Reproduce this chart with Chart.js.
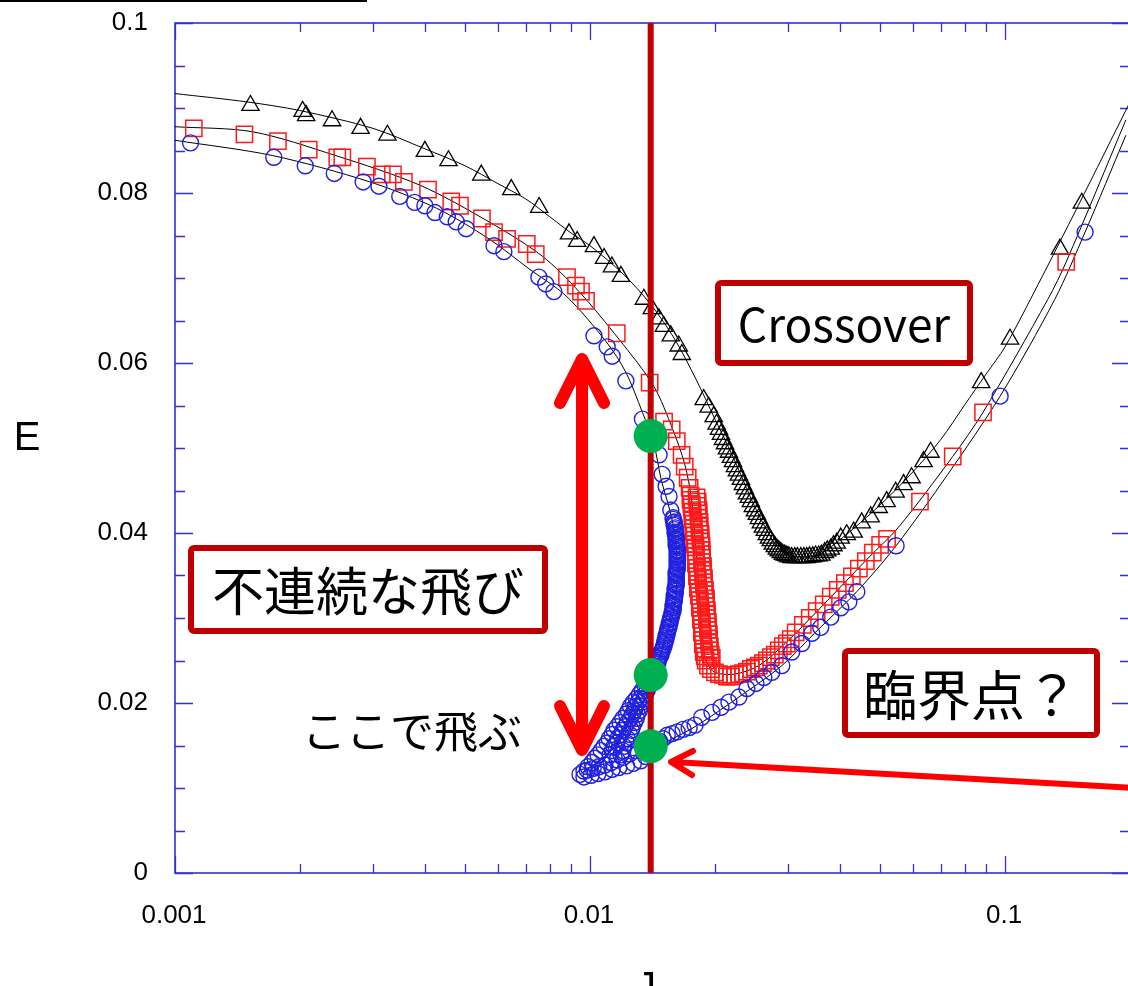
<!DOCTYPE html>
<html>
<head>
<meta charset="utf-8">
<script src="https://cdn.jsdelivr.net/npm/chart.js@4.4.1/dist/chart.umd.min.js"></script>
<style>
  html, body { margin: 0; padding: 0; background: #fff; overflow: hidden; }
  #wrap { position: relative; width: 1128px; height: 986px; overflow: hidden; }
  #chart { position: absolute; left: 0; top: 0; }
  #topline { position: absolute; left: 0; top: 0; width: 367px; height: 2px; background: #000; }
</style>
</head>
<body>
<div id="wrap"><canvas id="chart" width="1147" height="986"></canvas><div id="topline"></div></div>
<script>
// triangles (black)
const TRI_J = [0.00152,0.00203,0.00207,0.00239,0.0028,0.00325,0.004,0.00456,0.00547,0.00646,0.00754,0.0089,0.00931,0.01022,0.01081,0.01129,0.01187,0.01348,0.01409,0.01465,0.01506,0.01565,0.01636,0.01664,0.01879,0.01932,0.01986,0.02018,
  0.02045,0.02068,0.02091,0.02114,0.02137,0.02161,0.02185,0.0221,0.02234,0.02259,0.02284,0.0231,0.02335,0.02361,0.02388,0.02414,0.02441,0.02468,0.02496,0.02523,0.02551,0.0258,0.02609,0.02638,0.02667,0.02697,0.02727,0.02757,0.02788,0.02819,0.0285,0.02882,0.02914,0.02946,0.02979,0.03013,0.0306,0.03114,0.0316,0.0322,0.03274,0.03328,0.0338,0.0344,0.03495,0.03556,0.0361,0.03678,0.0373,0.03802,0.0386,0.0393,0.04018,
  0.04154,0.04318,0.04514,0.04745,0.0496,0.05185,0.0545,0.05696,0.05954,0.06363,0.06614,0.0876,0.1028,0.1356,0.1531];
const TRI_E = [0.0903,0.0896,0.0891,0.0885,0.0876,0.0868,0.0849,0.0838,0.0821,0.0804,0.0783,0.0752,0.0743,0.0737,0.0723,0.0713,0.0702,0.0675,0.0664,0.0652,0.0643,0.0632,0.062,0.061,0.0557,0.0548,0.0537,0.0528,
  0.0522,0.0516,0.051,0.0505,0.0499,0.0495,0.0489,0.0484,0.0478,0.0473,0.0468,0.0463,0.0457,0.0452,0.0446,0.0442,0.0437,0.0431,0.0426,0.0422,0.0417,0.0412,0.0407,0.0403,0.0398,0.0394,0.0391,0.0387,0.0384,0.0381,0.0379,0.0377,0.0375,0.0374,0.0373,0.0372,0.0371,0.0371,0.0371,0.0371,0.0371,0.0371,0.0372,0.0372,0.0373,0.0373,0.0374,0.0377,0.0379,0.0381,0.0385,0.0388,0.0394,
  0.0398,0.0401,0.0412,0.0419,0.043,0.0437,0.0448,0.0457,0.0465,0.0484,0.0495,0.0577,0.0628,0.0734,0.0788];

// squares (red)
const SQ_J = [0.00111,0.00147,0.00177,0.0021,0.00246,0.00253,0.0029,0.00315,0.00335,0.00356,0.00407,0.00463,0.00486,0.00549,0.00587,0.00631,0.00704,0.0074,0.0088,0.00925,0.00951,0.00978,0.0116,0.01392,
  0.01508,0.01573,0.01618,0.01662,0.01691,0.01719,0.01738,
  0.01747,0.01747,0.01757,0.01757,0.01766,0.01766,0.01766,0.01776,0.01776,0.01776,0.01786,0.01786,0.01786,0.01796,0.01796,0.018,0.018,0.018,0.0181,0.0181,0.0181,0.0182,0.0182,0.0182,0.0183,0.0183,0.0184,0.0184,0.0184,0.0185,0.0185,0.0185,0.0186,0.0186,0.0186,0.0187,0.0187,0.0187,0.0188,0.0188,0.0189,0.019,
  0.01806,0.01816,0.01816,0.01826,0.01826,0.01826,0.01836,0.01836,0.01836,0.01847,0.01847,0.01847,0.01857,0.01857,0.01861,0.01861,0.01861,0.01872,0.01872,0.01872,0.01882,0.01882,0.01882,0.01892,0.01892,0.01903,0.01903,0.01903,0.01913,0.01913,0.01913,0.01923,0.01923,0.01923,0.01934,0.01934,0.01934,0.01944,0.01944,0.01954,0.01965,
  0.01924,0.01956,0.02,0.02045,0.02091,0.02137,0.02185,0.02234,0.02284,0.02335,0.02388,0.02441,0.02496,0.02551,0.02609,0.02667,0.02727,0.02788,0.0285,0.02914,0.02979,0.03046,
  0.0313,0.03256,0.03384,0.03517,0.03657,0.03802,0.03953,0.04112,0.04275,0.04444,0.04619,0.04801,0.05,0.05197,0.06237,0.07481,0.0885,0.1404];
const SQ_E = [0.0876,0.0869,0.0861,0.0851,0.0842,0.0842,0.0831,0.0822,0.0822,0.0813,0.0804,0.079,0.0785,0.077,0.0754,0.0746,0.074,0.0728,0.0701,0.0691,0.0684,0.0673,0.0635,0.0577,
  0.0531,0.0522,0.0508,0.0492,0.0478,0.0465,0.0453,
  0.0444,0.0439,0.0434,0.043,0.0425,0.042,0.0416,0.0411,0.0406,0.0401,0.0397,0.0392,0.0387,0.0383,0.0378,0.0373,0.0368,0.0364,0.0359,0.0354,0.0349,0.0345,0.034,0.0335,0.0331,0.0326,0.0321,0.0316,0.0312,0.0307,0.0302,0.0298,0.0293,0.0288,0.0283,0.0279,0.0274,0.0269,0.0264,0.026,0.0255,0.025,
  0.0442,0.0437,0.0432,0.0427,0.0423,0.0418,0.0413,0.0409,0.0404,0.0399,0.0394,0.039,0.0385,0.038,0.0375,0.0371,0.0366,0.0361,0.0357,0.0352,0.0347,0.0342,0.0338,0.0333,0.0328,0.0323,0.0319,0.0314,0.0309,0.0305,0.03,0.0295,0.029,0.0286,0.0281,0.0276,0.0272,0.0267,0.0262,0.0257,0.0253,
  0.0244,0.024,0.0236,0.0234,0.0233,0.0231,0.0231,0.0233,0.0234,0.0235,0.0237,0.024,0.0242,0.0244,0.0247,0.025,0.0254,0.0257,0.0262,0.0267,0.027,0.0275,
  0.0283,0.0292,0.03,0.0308,0.0316,0.0325,0.0333,0.0341,0.0349,0.0358,0.0367,0.0377,0.0386,0.0393,0.0437,0.049,0.0542,0.0719];

// circles (blue)
const CI_J = [0.00109,0.00173,0.00206,0.00242,0.00284,0.0031,0.00348,0.00378,0.004,0.00423,0.00453,0.00476,0.00503,0.00587,0.0062,0.00753,0.00782,0.00818,0.01022,0.011,0.01131,0.0122,0.01337,0.01467,0.01492,0.01525,0.0155,0.01565,
  0.01586,0.01586,0.01595,0.01595,0.01595,0.01604,0.01604,0.01604,0.01604,0.01613,0.01613,0.01613,0.01613,0.01613,0.01613,0.01622,0.01622,0.01622,0.01622,0.01622,0.01622,0.01622,0.01622,0.01622,0.01622,0.01622,0.01622,0.01613,0.01613,0.01613,0.01613,0.01613,0.01613,0.01613,0.01613,0.01604,0.01604,0.01604,0.01604,0.01595,0.01595,0.01595,0.01595,0.01586,0.01586,0.01586,0.01586,0.01577,0.01577,0.01568,0.01568,0.0156,0.0156,0.01551,0.01551,0.01542,0.01542,0.01534,0.01534,0.01525,0.01525,0.01517,0.01517,0.01508,0.01508,0.015,0.01492,0.01484,0.01484,0.01475,0.01467,0.01459,0.01459,0.01451,0.01443,0.01443,0.01435,0.01427,0.01419,0.01411,0.01411,0.01404,0.01396,
  0.01388,0.01373,0.01358,0.01351,0.01336,0.01322,0.01315,0.013,0.01293,0.01279,0.01265,0.01258,0.01244,0.0123,0.01224,0.01207,0.012,0.01187,
  0.01322,0.01308,0.01286,0.01279,0.01265,0.01251,0.0123,0.01214,0.012,0.01187,0.01167,0.0116,0.01143,0.01131,0.01118,
  0.01358,0.01336,0.01315,0.01293,0.01272,0.01251,0.01237,0.01224,0.012,0.01181,0.01162,0.01143,0.01131,0.01112,0.011,0.01081,0.01063,0.01045,0.01028,0.01011,0.00989,0.00967,0.00946,
  0.00967,0.01006,0.01045,0.01086,0.01131,0.01173,0.01224,0.01272,0.01325,0.01362,
  0.00985,0.01017,0.0105,0.01086,0.01124,0.01162,0.01203,0.01244,0.01286,
  0.01471,0.015,0.01534,0.01577,0.01622,0.01676,0.01733,0.01791,0.01858,0.01967,0.02068,0.02161,0.02284,0.02388,0.0251,0.02623,0.02742,0.02898,0.03062,0.03238,0.03422,0.03596,0.03802,0.04018,0.04204,0.04394,0.05463,0.0973,0.1559];
const CI_E = [0.0859,0.0842,0.0832,0.0823,0.0813,0.0808,0.0796,0.0789,0.0785,0.0777,0.0772,0.0766,0.0758,0.0738,0.0731,0.0701,0.0693,0.0684,0.0632,0.0619,0.0608,0.0579,0.0534,0.0492,0.0469,0.0455,0.0443,0.0427,
  0.0418,0.0416,0.0413,0.0411,0.0409,0.0406,0.0404,0.0401,0.0399,0.0397,0.0394,0.0392,0.039,0.0387,0.0385,0.0383,0.038,0.0378,0.0375,0.0373,0.0371,0.0368,0.0366,0.0364,0.0361,0.0359,0.0357,0.0354,0.0352,0.035,0.0347,0.0345,0.0342,0.034,0.0338,0.0335,0.0333,0.0331,0.0328,0.0326,0.0323,0.0321,0.0319,0.0316,0.0314,0.0312,0.0309,0.0307,0.0305,0.0302,0.03,0.0298,0.0295,0.0293,0.029,0.0288,0.0286,0.0283,0.0281,0.0279,0.0276,0.0274,0.0272,0.0269,0.0267,0.0264,0.0262,0.026,0.0257,0.0255,0.0253,0.025,0.0248,0.0246,0.0243,0.0241,0.0238,0.0236,0.0234,0.0231,0.0229,0.0227,0.0224,
  0.022,0.0215,0.021,0.0205,0.0201,0.0196,0.0191,0.0187,0.0182,0.0177,0.0172,0.0168,0.0163,0.0158,0.0153,0.0149,0.0144,0.0139,
  0.0205,0.0201,0.0196,0.0191,0.0187,0.0182,0.0177,0.0172,0.0168,0.0163,0.0158,0.0153,0.0149,0.0144,0.0139,
  0.022,0.0215,0.021,0.0205,0.0201,0.0196,0.0191,0.0187,0.0182,0.0177,0.0172,0.0168,0.0163,0.0158,0.0153,0.0149,0.0144,0.0139,0.0135,0.013,0.0125,0.012,0.0116,
  0.0113,0.0115,0.0117,0.0119,0.0122,0.0124,0.0126,0.0129,0.0132,0.0137,
  0.0121,0.0123,0.0125,0.0127,0.013,0.0133,0.0136,0.014,0.0144,
  0.0155,0.0158,0.0162,0.0164,0.0166,0.0169,0.0171,0.0174,0.0183,0.0189,0.0195,0.0201,0.0207,0.0217,0.0223,0.023,0.0236,0.0244,0.026,0.027,0.0282,0.0289,0.0301,0.0312,0.0319,0.0331,0.0385,0.0561,0.0754];

// black guide curves
const TRI_FIT_J = [0.001,0.0015,0.002,0.003,0.004,0.005,0.006,0.007,0.008,0.009,0.01,0.012,0.014,0.016,0.018,0.02,0.022,0.025,0.028,0.03,0.035,0.04,0.05,0.06,0.07,0.08,0.09,0.1,0.12,0.15,0.2];
const TRI_FIT_E = [0.0917,0.0907,0.0897,0.0876,0.0852,0.0832,0.0811,0.0793,0.0772,0.0753,0.0738,0.0705,0.0669,0.0628,0.0581,0.0534,0.0492,0.043,0.0386,0.0374,0.0373,0.0392,0.0433,0.0472,0.051,0.0551,0.0587,0.0619,0.0692,0.0785,0.0907];
const SQ_FIT_J = [0.001,0.00154,0.00244,0.0039,0.00571,0.00766,0.00941,0.01174,0.01423,0.01582,0.01691,0.01757,0.018,0.0184,0.0187,0.0191,0.02,0.0223,0.0255,0.0301,0.0374,0.0469,0.0552,0.0748,0.0885,0.1268,0.1404,0.1955];
const SQ_FIT_E = [0.0878,0.0872,0.0844,0.0809,0.0766,0.0726,0.0684,0.0628,0.0573,0.0522,0.0481,0.0439,0.038,0.0321,0.0274,0.0248,0.0236,0.0234,0.0244,0.0274,0.0321,0.0371,0.0406,0.049,0.0542,0.0675,0.0719,0.0886];
const CI_FIT_J = [0.001,0.00172,0.00295,0.00427,0.00571,0.00712,0.00875,0.01094,0.0122,0.01337,0.01423,0.01484,0.01556,0.01609,0.01618,0.01591,0.01517,0.01423,0.01315,0.01207,0.01082,0.00951];
const CI_FIT_E = [0.0862,0.0844,0.0813,0.0782,0.0746,0.0711,0.0679,0.0625,0.0589,0.0542,0.0506,0.0463,0.0427,0.0392,0.0345,0.0309,0.0272,0.0233,0.0194,0.0162,0.0136,0.0117];
const CI_LOW_FIT_J = [0.01408,0.0176,0.02284,0.02898,0.03556,0.04394,0.05463,0.07277,0.0973,0.1318,0.1559,0.1955];
const CI_LOW_FIT_E = [0.0146,0.017,0.0207,0.0244,0.0287,0.0331,0.0385,0.0469,0.0561,0.0675,0.0754,0.0868];

// vertical marker and green points
const J_MARK = 0.014;
const GREEN_J = [0.014, 0.014, 0.014];
const GREEN_E = [0.0514, 0.0233, 0.0149];

// axes
const X_TICKS = [0.001,0.002,0.003,0.004,0.005,0.006,0.007,0.008,0.009,0.01,0.02,0.03,0.04,0.05,0.06,0.07,0.08,0.09,0.1,0.2];
const X_LABELED = [0.001, 0.01, 0.1];
const Y_TICKS = [0,0.005,0.01,0.015,0.02,0.025,0.03,0.035,0.04,0.045,0.05,0.055,0.06,0.065,0.07,0.075,0.08,0.085,0.09,0.095,0.1];
const Y_LABELED = [0, 0.02, 0.04, 0.06, 0.08, 0.1];

const AXIS_COLOR = "#3030d8";
const TICK_FONT = "26px 'Liberation Sans', Arial, sans-serif";
const JP_FONT = "'Noto Sans CJK JP', 'Noto Sans', sans-serif";

const pts = (xs, ys) => xs.map((x, i) => ({ x, y: ys[i] }));

const boxes = [
  { text: "Crossover", x: 718, y: 283, w: 252, h: 80, size: 46 },
  { text: "不連続な飛び", x: 191, y: 548, w: 354, h: 83, size: 52 },
  { text: "臨界点？", x: 845, y: 651, w: 252, h: 84, size: 54 }
];

function roundRect(ctx, x, y, w, h, r) {
  ctx.beginPath();
  ctx.moveTo(x + r, y);
  ctx.arcTo(x + w, y, x + w, y + h, r);
  ctx.arcTo(x + w, y + h, x, y + h, r);
  ctx.arcTo(x, y + h, x, y, r);
  ctx.arcTo(x, y, x + w, y, r);
  ctx.closePath();
}

const framePlugin = {
  id: "frame",
  beforeDatasetsDraw(chart) {
    const { ctx, chartArea: a, scales } = chart;
    ctx.save();
    ctx.strokeStyle = AXIS_COLOR;
    ctx.lineWidth = 1.6;
    ctx.strokeRect(a.left, a.top, a.right - a.left, a.bottom - a.top);
    ctx.lineWidth = 1.3;
    ctx.beginPath();
    X_TICKS.forEach(v => {
      const px = Math.round(scales.x.getPixelForValue(v)) + 0.5;
      const len = X_LABELED.includes(v) ? 17 : 9;
      ctx.moveTo(px, a.bottom); ctx.lineTo(px, a.bottom - len);
      ctx.moveTo(px, a.top); ctx.lineTo(px, a.top + len);
    });
    Y_TICKS.forEach(v => {
      const py = Math.round(scales.y.getPixelForValue(v)) + 0.5;
      const len = Y_LABELED.includes(v) ? 18 : 10;
      ctx.moveTo(a.left, py); ctx.lineTo(a.left + len, py);
      ctx.moveTo(a.right, py); ctx.lineTo(a.right - len, py);
    });
    ctx.stroke();

    // tick labels
    ctx.fillStyle = "#000";
    ctx.font = TICK_FONT;
    ctx.textBaseline = "middle";
    ctx.textAlign = "center";
    X_LABELED.forEach(v => ctx.fillText(String(v), scales.x.getPixelForValue(v) - 1, a.bottom + 43));
    ctx.textAlign = "right";
    Y_LABELED.forEach(v => ctx.fillText(String(v), a.left - 27, scales.y.getPixelForValue(v)));
    ctx.restore();
  }
};

const notePlugin = {
  id: "notes",
  afterDatasetsDraw(chart) {
    const { ctx } = chart;
    ctx.save();
    ctx.lineCap = "round";
    ctx.lineJoin = "round";

    // double arrow
    ctx.strokeStyle = "#ff0000";
    ctx.lineWidth = 12;
    ctx.beginPath();
    ctx.moveTo(582, 362); ctx.lineTo(582, 748);
    ctx.moveTo(560, 403); ctx.lineTo(582, 359); ctx.lineTo(604, 403);
    ctx.moveTo(560, 706); ctx.lineTo(582, 750); ctx.lineTo(604, 706);
    ctx.stroke();

    // pointer arrow
    ctx.lineWidth = 6;
    ctx.beginPath();
    ctx.moveTo(1135, 788); ctx.lineTo(673, 762);
    ctx.moveTo(693, 751); ctx.lineTo(671, 762); ctx.lineTo(692, 775);
    ctx.stroke();

    // boxes
    boxes.forEach(b => {
      roundRect(ctx, b.x, b.y, b.w, b.h, 3);
      ctx.fillStyle = "#fff";
      ctx.fill();
      ctx.strokeStyle = "#c00000";
      ctx.lineWidth = 6;
      ctx.stroke();
      ctx.fillStyle = "#000";
      ctx.font = `${b.size}px ${JP_FONT}`;
      ctx.textAlign = "center";
      ctx.textBaseline = "middle";
      ctx.fillText(b.text, b.x + b.w / 2, b.y + b.h / 2 + 2);
    });

    ctx.fillStyle = "#000";
    ctx.font = `44px ${JP_FONT}`;
    ctx.textAlign = "center";
    ctx.textBaseline = "middle";
    ctx.fillText("ここで飛ぶ", 412, 731);

    // axis titles
    ctx.font = "40px 'Liberation Sans', Arial, sans-serif";
    ctx.textBaseline = "alphabetic";
    ctx.fillText("E", 27, 450);
    ctx.fillText("J", 646, 1000);
    ctx.restore();
  }
};

new Chart(document.getElementById("chart"), {
  type: "scatter",
  data: {
    datasets: [
      { data: pts(GREEN_J, GREEN_E), pointStyle: "circle", pointRadius: 17, backgroundColor: "#00b050", borderWidth: 0, order: 0 },
      { data: [{ x: J_MARK, y: 0 }, { x: J_MARK, y: 0.1 }], showLine: true, pointRadius: 0, borderColor: "#c00000", borderWidth: 6, order: 1 },
      { data: pts(CI_J, CI_E), pointStyle: "circle", pointRadius: 8, borderColor: "#2020e0", backgroundColor: "rgba(0,0,0,0)", borderWidth: 1.4, order: 2 },
      { data: pts(SQ_J, SQ_E), pointStyle: "rect", pointRadius: 11.5, borderColor: "#ff1a1a", backgroundColor: "rgba(0,0,0,0)", borderWidth: 1.5, order: 3 },
      { data: pts(TRI_J, TRI_E), pointStyle: "triangle", pointRadius: 10, borderColor: "#000", backgroundColor: "rgba(0,0,0,0)", borderWidth: 1.3, order: 4 },
      { data: pts(TRI_FIT_J, TRI_FIT_E), showLine: true, pointRadius: 0, borderColor: "#000", borderWidth: 1, tension: 0.3, order: 5 },
      { data: pts(SQ_FIT_J, SQ_FIT_E), showLine: true, pointRadius: 0, borderColor: "#000", borderWidth: 1, tension: 0.3, order: 5 },
      { data: pts(CI_FIT_J, CI_FIT_E), showLine: true, pointRadius: 0, borderColor: "#000", borderWidth: 1, tension: 0.3, order: 5 },
      { data: pts(CI_LOW_FIT_J, CI_LOW_FIT_E), showLine: true, pointRadius: 0, borderColor: "#000", borderWidth: 1, tension: 0.3, order: 5 }
    ]
  },
  options: {
    responsive: false,
    animation: false,
    layout: { padding: { left: 0, top: 23, right: 8, bottom: 0 } },
    plugins: { legend: { display: false }, tooltip: { enabled: false } },
    scales: {
      x: {
        type: "logarithmic",
        min: 0.001,
        max: 0.2,
        grid: { display: false, drawTicks: false },
        border: { display: false },
        ticks: { display: false },
        afterFit: s => { s.height = 113; }
      },
      y: {
        min: 0,
        max: 0.1,
        grid: { display: false, drawTicks: false },
        border: { display: false },
        ticks: { display: false },
        afterFit: s => { s.width = 175; }
      }
    }
  },
  plugins: [framePlugin, notePlugin]
});
</script>
</body>
</html>
